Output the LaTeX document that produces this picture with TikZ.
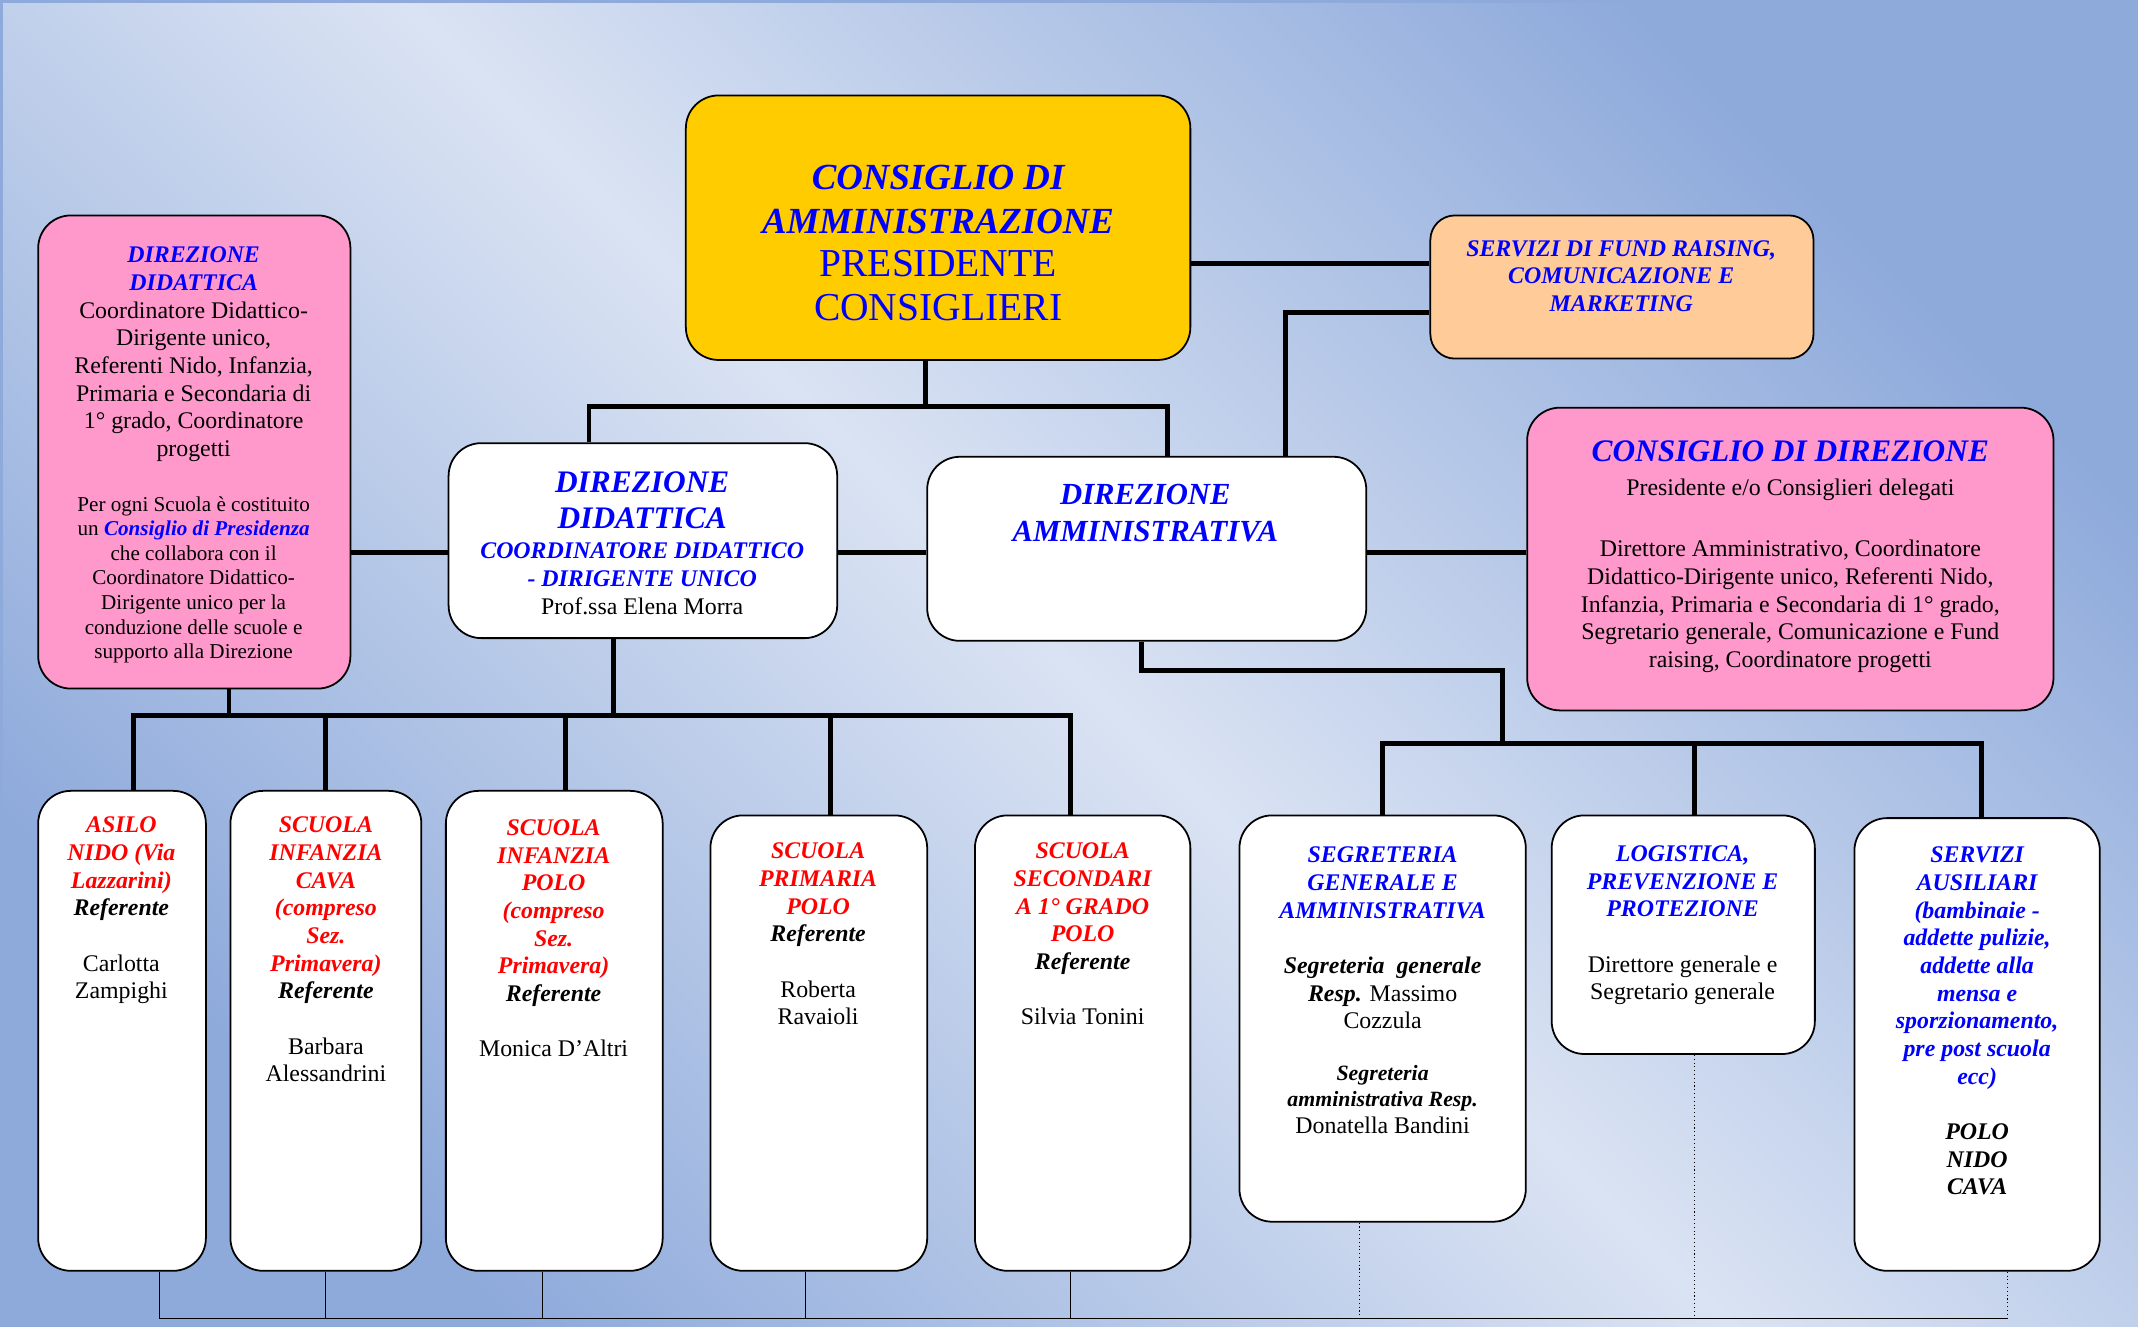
\documentclass[tikz,border=0pt]{standalone}
\usepackage{fontspec}
\setmainfont{Liberation Serif}
\usepackage{tikz}

\definecolor{cdaYellow}{HTML}{FFCC00}
\definecolor{dirPink}{HTML}{FF99CC}
\definecolor{fundPeach}{HTML}{FFCC99}
\definecolor{bgDark}{HTML}{8EAADB}
\definecolor{bgLight}{HTML}{DAE3F3}

\newcommand{\hb}[1]{\textcolor{blue}{\bfseries\itshape #1}}
\newcommand{\hr}[1]{\textcolor{red}{\bfseries\itshape #1}}
\newcommand{\bi}[1]{{\bfseries\itshape #1}}

\begin{document}
\begin{tikzpicture}[x=1pt, y=-1pt,
    box/.style={draw, line width=1.3pt, rounded corners=24pt, fill=white, inner sep=0pt},
    txt/.style={align=center, inner sep=0pt, anchor=north, font=\fontsize{17.5}{20.3}\selectfont},
    link/.style={line width=3.5pt},
    foot/.style={line width=0.8pt}]

    \useasboundingbox (0,0) rectangle (1568,973);
    \shade[left color=bgDark, right color=bgDark, middle color=bgLight, shading angle=135] (0,0) rectangle (1568,973);
    \draw[bgDark, line width=2pt] (1,973) -- (1,1) -- (1568,1);

    \node[box, fill=cdaYellow, minimum width=370, minimum height=194] (cda) at (688,167) {};
    \node[box, fill=dirPink, minimum width=229, minimum height=347] (ddl) at (142.5,331.5) {};
    \node[box, minimum width=285, minimum height=143] (ddc) at (471.5,396.5) {};
    \node[box, minimum width=322, minimum height=135] (dam) at (841,402.5) {};
    \node[box, fill=fundPeach, rounded corners=18pt, minimum width=281, minimum height=105] (fund) at (1189.5,210.5) {};
    \node[box, fill=dirPink, minimum width=386, minimum height=222] (cdd) at (1313,410) {};

    \node[box, minimum width=123, minimum height=352] (nido) at (89.5,756) {};
    \node[box, minimum width=140, minimum height=352] (cava) at (239,756) {};
    \node[box, minimum width=159, minimum height=352] (ipolo) at (406.5,756) {};
    \node[box, minimum width=159, minimum height=334] (prim) at (600.5,765) {};
    \node[box, minimum width=158, minimum height=334] (sec) at (794,765) {};
    \node[box, minimum width=210, minimum height=298] (segr) at (1014,747) {};
    \node[box, minimum width=193, minimum height=175] (logi) at (1234.5,685.5) {};
    \node[box, minimum width=180, minimum height=332] (aus) at (1450,766) {};

    % consiglio di amministrazione
    \coordinate (j0) at (679,298);
    \coordinate (j1) at (432,298);
    \coordinate (j2) at (856,298);
    \draw[link] (cda.south -| j0) -- (j0);
    \draw[link] (ddc.north -| j1) |- (j2) -- (dam.north -| j2);
    \coordinate (f0) at (960,193);
    \coordinate (f1) at (943,229);
    \draw[link] (cda.east |- f0) -- (fund.west |- f0);
    \draw[link] (dam.north -| f1) -- (f1) -- (fund.west |- f1);

    \coordinate (mid) at (0,405);
    \draw[link] (ddl.east |- mid) -- (ddc.west |- mid);
    \draw[link] (ddc.east |- mid) -- (dam.west |- mid);
    \draw[link] (dam.east |- mid) -- (cdd.west |- mid);

    % scuole
    \coordinate (s0) at (450,525);
    \coordinate (s1) at (168,525);
    \draw[link] (ddc.south -| s0) -- (s0);
    \draw[link] (ddl.south -| s1) -- (s1);
    \coordinate (s-nido) at (98,525);
    \coordinate (s-sec) at (785,525);
    \draw[link] (nido.north -| s-nido) |- (s-sec) -- (sec.north -| s-sec);
    \foreach \n/\x in {cava/239, ipolo/415, prim/609} {
        \coordinate (s-\n) at (\x,525);
        \draw[link] (s-\n) -- (\n.north -| s-\n);
    }

    % amministrazione
    \coordinate (a0) at (837,492);
    \coordinate (a1) at (1102,545);
    \draw[link] (dam.south -| a0) -- (a0) -| (a1);
    \coordinate (a-segr) at (1014,545);
    \coordinate (a-logi) at (1243,545);
    \coordinate (a-aus) at (1453,545);
    \draw[link] (segr.north -| a-segr) |- (a-aus) -- (aus.north -| a-aus);
    \draw[link] (a-logi) -- (logi.north -| a-logi);

    % linee in basso
    \coordinate (f-nido) at (117,967);
    \coordinate (f-aus) at (1472,967);
    \draw[foot] (nido.south -| f-nido) |- (f-aus);
    \draw[foot, dotted] (aus.south -| f-aus) -- (f-aus);
    \foreach \n/\x in {cava/239, ipolo/398, prim/591, sec/785} {
        \coordinate (f-\n) at (\x,967);
        \draw[foot] (\n.south -| f-\n) -- (f-\n);
    }
    \foreach \n/\x in {segr/997, logi/1243} {
        \coordinate (f-\n) at (\x,967);
        \draw[foot, dotted] (\n.south -| f-\n) -- (f-\n);
    }

    % testi
    \node[txt, font=\fontsize{27}{32}\selectfont, text=blue] (cdaT) at (688,121)
        {\bi{CONSIGLIO DI}\\ \bi{AMMINISTRAZIONE}\\ {\fontsize{29}{32}\selectfont PRESIDENTE}\\
         {\fontsize{29}{32}\selectfont CONSIGLIERI}};

    \node[txt] (ddlT) at (142,181)
        {\hb{DIREZIONE}\\ \hb{DIDATTICA}\\ Coordinatore Didattico-\\ Dirigente unico,\\
         Referenti Nido, Infanzia,\\ Primaria e Secondaria di\\ 1° grado, Coordinatore\\ progetti};
    \node[txt, font=\fontsize{15.5}{18}\selectfont] (ddlN) at (142,364)
        {Per ogni Scuola è costituito\\ un \hb{Consiglio di Presidenza}\\ che collabora con il\\
         Coordinatore Didattico-\\ Dirigente unico per la\\ conduzione delle scuole e\\ supporto alla Direzione};

    \node[txt, font=\fontsize{23}{26}\selectfont\bfseries\itshape, text=blue] (ddcH) at (471,346)
        {DIREZIONE\\ DIDATTICA};
    \node[txt] (ddcT) at (471,398)
        {\hb{COORDINATORE DIDATTICO}\\ \hb{- DIRIGENTE UNICO}\\ Prof.ssa Elena Morra};

    \node[txt, font=\fontsize{22.5}{27}\selectfont\bfseries\itshape, text=blue] (damT) at (840,355)
        {DIREZIONE\\ AMMINISTRATIVA};

    \node[txt, font=\fontsize{17.5}{20.3}\selectfont\bfseries\itshape, text=blue] (fundT) at (1189,176)
        {SERVIZI DI FUND RAISING,\\ COMUNICAZIONE E\\ MARKETING};

    \node[txt, font=\fontsize{23}{26}\selectfont\bfseries\itshape, text=blue] (cddH) at (1313,323)
        {CONSIGLIO DI DIREZIONE};
    \node[txt] (cddS) at (1313,351) {Presidente e/o Consiglieri delegati};
    \node[txt] (cddT) at (1313,396)
        {Direttore Amministrativo, Coordinatore\\ Didattico-Dirigente unico, Referenti Nido,\\
         Infanzia, Primaria e Secondaria di 1° grado,\\ Segretario generale, Comunicazione e Fund\\
         raising, Coordinatore progetti};

    \node[txt] (nidoT) at (89,599)
        {\hr{ASILO}\\ \hr{NIDO (Via}\\ \hr{Lazzarini)}\\ \bi{Referente}\\[20.3pt] Carlotta\\ Zampighi};
    \node[txt] (cavaT) at (239,599)
        {\hr{SCUOLA}\\ \hr{INFANZIA}\\ \hr{CAVA}\\ \hr{(compreso}\\ \hr{Sez.}\\ \hr{Primavera)}\\
         \bi{Referente}\\[20.3pt] Barbara\\ Alessandrini};
    \node[txt] (ipoloT) at (406,601)
        {\hr{SCUOLA}\\ \hr{INFANZIA}\\ \hr{POLO}\\ \hr{(compreso}\\ \hr{Sez.}\\ \hr{Primavera)}\\
         \bi{Referente}\\[20.3pt] Monica D’Altri};
    \node[txt] (primT) at (600,618)
        {\hr{SCUOLA}\\ \hr{PRIMARIA}\\ \hr{POLO}\\ \bi{Referente}\\[20.3pt] Roberta\\ Ravaioli};
    \node[txt] (secT) at (794,618)
        {\hr{SCUOLA}\\ \hr{SECONDARI}\\ \hr{A 1° GRADO}\\ \hr{POLO}\\ \bi{Referente}\\[20.3pt] Silvia Tonini};

    \node[txt] (segrT) at (1014,621)
        {\hb{SEGRETERIA}\\ \hb{GENERALE E}\\ \hb{AMMINISTRATIVA}\\[20.3pt]
         \bi{Segreteria\ \ generale}\\ \bi{Resp.} Massimo\\ Cozzula};
    \node[txt, font=\fontsize{16}{19.5}\selectfont] (segrN) at (1014,781)
        {\bi{Segreteria}\\ \bi{amministrativa Resp.}\\ {\fontsize{17.5}{20.3}\selectfont Donatella Bandini}};
    \node[txt] (logiT) at (1234,620)
        {\hb{LOGISTICA,}\\ \hb{PREVENZIONE E}\\ \hb{PROTEZIONE}\\[20.3pt] Direttore generale e\\ Segretario generale};
    \node[txt] (ausT) at (1450,621)
        {\hb{SERVIZI}\\ \hb{AUSILIARI}\\ \hb{(bambinaie -}\\ \hb{addette pulizie,}\\ \hb{addette alla}\\
         \hb{mensa e}\\ \hb{sporzionamento,}\\ \hb{pre post scuola}\\ \hb{ecc)}\\[20.3pt]
         \bi{POLO}\\ \bi{NIDO}\\ \bi{CAVA}};
\end{tikzpicture}
\end{document}
